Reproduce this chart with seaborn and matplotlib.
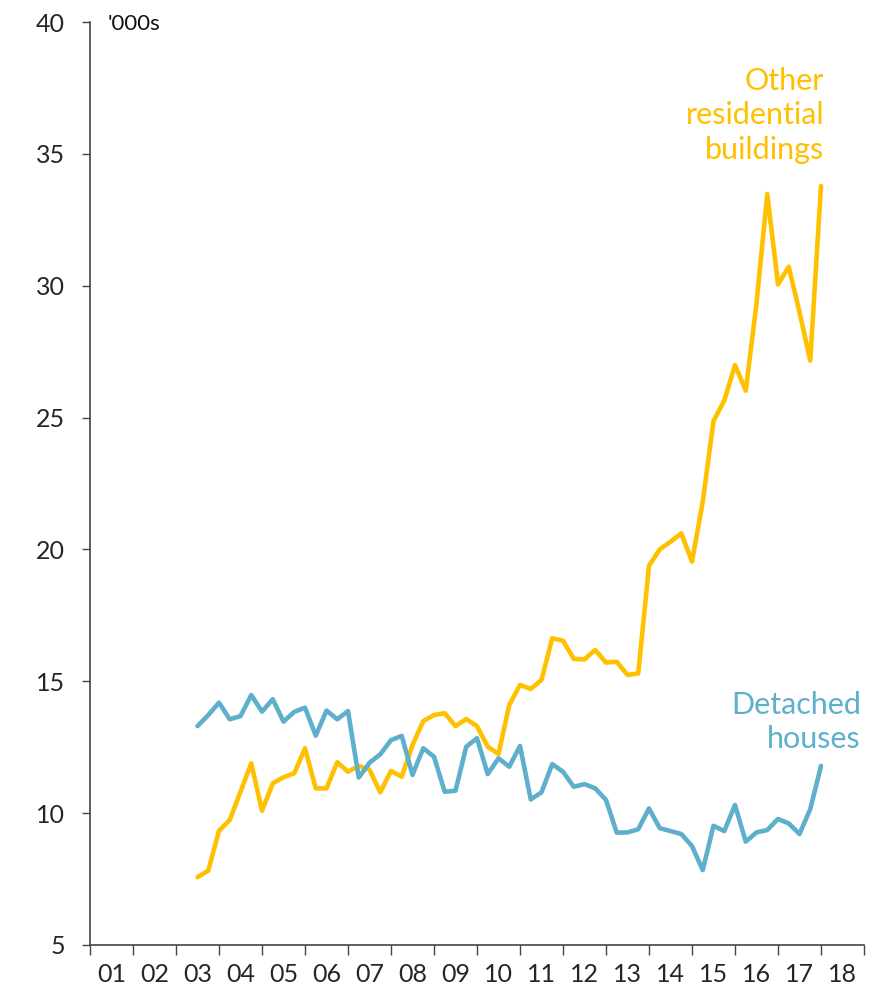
import numpy as np
import pandas as pd
import matplotlib
matplotlib.use("Agg")
import matplotlib.pyplot as plt
import seaborn as sns

# Quarterly series, 2003Q2 .. 2017Q4 ('000s)
first_quarter = "2003Q2"
last_quarter = "2017Q4"

other_residential = [
    7.57, 7.82, 9.33, 9.74, 10.81, 11.89, 10.09, 11.13, 11.36, 11.51,
    12.46, 10.94, 10.94, 11.93, 11.57, 11.79, 11.65, 10.79, 11.60, 11.38,
    12.58, 13.49, 13.72, 13.79, 13.30, 13.57, 13.30, 12.52, 12.24, 14.10,
    14.86, 14.71, 15.05, 16.63, 16.54, 15.85, 15.83, 16.19, 15.71, 15.74,
    15.24, 15.30, 19.38, 20.00, 20.29, 20.61, 19.54, 21.81, 24.87, 25.64,
    26.99, 26.02, 29.33, 33.48, 30.05, 30.72, 29.00, 27.16, 33.78,
]
detached_houses = [
    13.30, 13.72, 14.19, 13.56, 13.68, 14.48, 13.85, 14.32, 13.47, 13.84,
    14.00, 12.94, 13.89, 13.56, 13.87, 11.35, 11.91, 12.23, 12.77, 12.93,
    11.45, 12.46, 12.14, 10.81, 10.85, 12.52, 12.84, 11.48, 12.08, 11.76,
    12.55, 10.52, 10.79, 11.86, 11.57, 11.00, 11.10, 10.94, 10.50, 9.26,
    9.27, 9.39, 10.18, 9.43, 9.32, 9.21, 8.75, 7.84, 9.52, 9.32,
    10.31, 8.92, 9.27, 9.36, 9.78, 9.61, 9.21, 10.15, 11.79,
]
series_names = ["Other\nresidential\nbuildings", "Detached\nhouses"]
year_labels = ["01", "02", "03", "04", "05", "06", "07", "08", "09",
               "10", "11", "12", "13", "14", "15", "16", "17", "18"]
y_ticks = [5, 10, 15, 20, 25, 30, 35, 40]
unit_label = "'000s"

ORANGE = "#FFC000"
BLUE = "#5EAFCC"

periods = pd.period_range(first_quarter, last_quarter, freq="Q")
xpos = periods.year + periods.quarter / 4.0
df = pd.concat([
    pd.DataFrame({"x": xpos, "value": other_residential, "series": "other"}),
    pd.DataFrame({"x": xpos, "value": detached_houses, "series": "detached"}),
])

sns.set_theme(style="white")
plt.rcParams["font.family"] = ["Lato", "DejaVu Sans"]

fig = plt.figure(figsize=(8.92, 9.99), dpi=100)
ax = fig.add_axes([90 / 892, 1 - 945 / 999, (864 - 90) / 892, (945 - 22) / 999])

sns.lineplot(data=df, x="x", y="value", hue="series",
             palette={"other": ORANGE, "detached": BLUE},
             linewidth=3.3, legend=False, ax=ax)

ax.set_xlim(2001, 2019)
ax.set_ylim(5, 40)
ax.set_xlabel("")
ax.set_ylabel("")

# y axis
ax.set_yticks(y_ticks)
ax.set_yticklabels([str(t) for t in y_ticks])
ax.tick_params(axis="y", direction="out", length=6, width=1.0,
               color="#444444", labelsize=18, pad=12, left=True)

# x axis: labels centred on years, tick marks at year boundaries
first_year = 2001
ax.set_xticks([first_year + i + 0.5 for i in range(len(year_labels))])
ax.set_xticklabels(year_labels)
ax.set_xticks([first_year + i for i in range(len(year_labels) + 1)], minor=True)
ax.tick_params(axis="x", which="major", length=0, labelsize=18, pad=13)
ax.tick_params(axis="x", which="minor", direction="out", length=7,
               width=1.0, color="#444444", bottom=True)

for s in ["top", "right"]:
    ax.spines[s].set_visible(False)
for s in ["left", "bottom"]:
    ax.spines[s].set_color("#444444")
    ax.spines[s].set_linewidth(1.2)

ax.text(2001.42, 39.92, unit_label, fontsize=16, color="#111111",
        ha="left", va="center")
ax.text(2018.07, 36.47, series_names[0], fontsize=22, color=ORANGE,
        ha="right", va="center", linespacing=1.28)
ax.text(2018.93, 13.46, series_names[1], fontsize=22, color=BLUE,
        ha="right", va="center", linespacing=1.28)

fig.savefig("out.png", dpi=100)
